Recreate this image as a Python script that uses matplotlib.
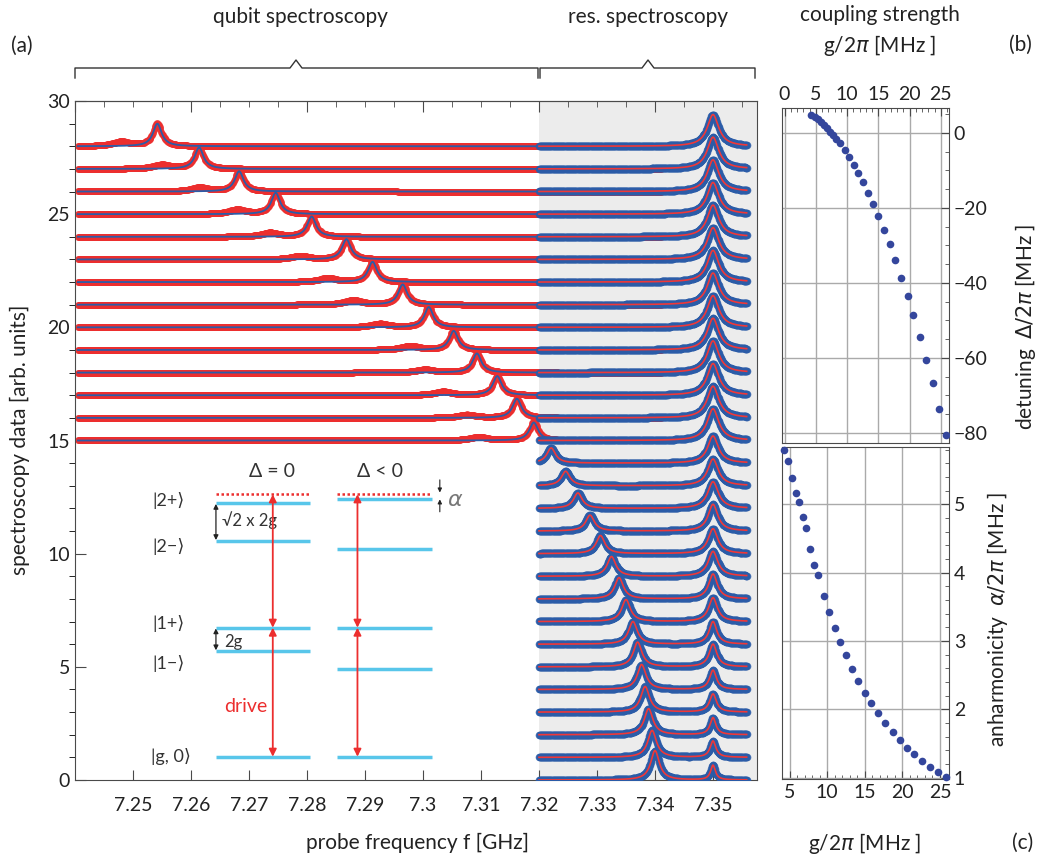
import numpy as np
import matplotlib.pyplot as plt
from matplotlib.lines import Line2D
from matplotlib.ticker import MultipleLocator, FixedLocator, FuncFormatter

plt.rcParams['font.family'] = ['Lato', 'DejaVu Sans']
plt.rcParams['mathtext.fontset'] = 'dejavusans'

W, H = 1041, 857

## qubit spectroscopy traces (red data, blue fit), one per offset
qubit_offset = [28, 27, 26, 25, 24, 23, 22, 21, 20, 19, 18, 17, 16, 15]
qubit_peak   = [7.2542, 7.2614, 7.2683, 7.2746, 7.2808, 7.2868, 7.2913, 7.2965, 7.3010,
                7.3053, 7.3093, 7.3128, 7.3162, 7.3191]
qubit_height = [1.0, 0.95, 0.9, 0.95, 0.9, 0.9, 0.9, 0.9, 0.9, 0.85, 0.85, 0.85, 0.85, 0.8]
side_peak    = [7.2480, 7.2550, 7.2615, 7.2680, 7.2736, 7.2788, 7.2836, 7.2880, 7.2926,
                7.2978, 7.3004, 7.3035, 7.3076, 7.3096]
side_height  = [0.2, 0.18, 0.18, 0.2, 0.18, 0.16, 0.18, 0.2, 0.16, 0.18, 0.14, 0.16, 0.14, 0.16]

## resonator spectroscopy traces (blue data, red fit), offsets 28 .. 0
res_offset  = list(range(28, -1, -1))
res_height  = [1.4] * 14 + [1.2, 1.18, 1.18, 1.18, 1.1, 1.1, 1.1, 1.05, 1.0, 1.0,
                            0.85, 0.8, 0.75, 0.72, 0.65]
res_width   = [0.0012] * 14 + [0.0011, 0.0011, 0.0011, 0.001, 0.001, 0.001, 0.0009, 0.0009,
                               0.0008, 0.0008, 0.0007, 0.0007, 0.0006, 0.0006, 0.0005]
dress_peak   = [np.nan] * 14 + [7.3221, 7.3246, 7.3267, 7.3288, 7.3306, 7.3325, 7.3338, 7.3350,
                                7.3362, 7.3370, 7.3377, 7.3383, 7.3389, 7.3395, 7.3400]
dress_height = [0.0] * 14 + [0.67, 0.64, 0.68, 0.7, 0.8, 0.87, 0.94, 0.97, 1.0, 1.09,
                             1.1, 1.13, 1.15, 1.19, 1.3]

## panels (b) and (c)
g_coupling = [4.3, 4.85, 5.35, 5.85, 6.3, 6.75, 7.2, 7.7, 8.25, 8.85, 9.6, 10.3, 11.05, 11.75,
              12.5, 13.3, 14.15, 15.0, 15.85, 16.8, 17.7, 18.7, 19.7, 20.6, 21.6, 22.65,
              23.7, 24.75, 25.8]
detuning   = [4.7, 4.1, 3.6, 2.85, 2.05, 1.15, 0.3, -0.6, -1.75, -2.65, -4.6, -6.4, -8.5,
              -10.7, -13.1, -16.0, -18.9, -22.2, -25.8, -29.6, -33.9, -38.6, -43.5, -48.6,
              -54.4, -60.5, -66.8, -73.6, -80.7]
anharm     = [5.79, 5.63, 5.39, 5.17, 5.04, 4.82, 4.65, 4.35, 4.11, 3.96, 3.66, 3.42, 3.19,
              2.99, 2.79, 2.59, 2.41, 2.24, 2.09, 1.94, 1.80, 1.67, 1.55, 1.44, 1.34, 1.24,
              1.16, 1.08, 1.01]
freq_ticks = [7.25, 7.26, 7.27, 7.28, 7.29, 7.30, 7.31, 7.32, 7.33, 7.34, 7.35]

red   = '#ec2e2e'
blue  = '#2b5ca8'
grey  = '#4a4a4a'
cyan  = '#58c6ea'
navy  = '#34469c'


def lor(f, f0, w):
    return 1.0 / (1.0 + ((f - f0) / w) ** 2)


def px(x, y):
    return x / W, 1 - y / H


fig = plt.figure(figsize=(W / 100, H / 100), dpi=100)

## ---- panel (a)
ax = fig.add_axes([75 / W, 1 - 780 / H, 682 / W, 679 / H])
ax.set_xlim(7.24, 7.24 + 682 / 5800)
ax.set_ylim(0, 30)
ax.axvspan(7.32, 7.36, color='#ececec', zorder=0, lw=0)

f_q = np.linspace(7.2405, 7.341, 700)
for off, f0, h, fb, hb in zip(qubit_offset, qubit_peak, qubit_height, side_peak, side_height):
    fit = off + h * lor(f_q, f0, 0.0009)
    data = fit + hb * lor(f_q, fb, 0.0018)
    ax.plot(f_q, data, 'o', ms=5, color=red, alpha=0.85, mec='none', zorder=2)
    ax.plot(f_q, fit, color=blue, lw=1.3, zorder=3)

f_r = np.linspace(7.32, 7.3558, 400)
for off, h, w, fm, hm in zip(res_offset, res_height, res_width, dress_peak, dress_height):
    fit = off + h * lor(f_r, 7.35, w)
    if hm > 0:
        fit = fit + hm * lor(f_r, fm, 0.0009)
    ax.plot(f_r, fit, 'o', ms=5.5, color=blue, alpha=0.85, mec='none', zorder=4)
    ax.plot(f_r, fit, color='#f03838', lw=1.2, zorder=5)

for s in ax.spines.values():
    s.set_color(grey)
ax.xaxis.set_major_locator(FixedLocator(freq_ticks))
ax.xaxis.set_major_formatter(FuncFormatter(lambda v, p: f'{v:.2f}'.rstrip('0')))
ax.yaxis.set_major_locator(MultipleLocator(5))
ax.yaxis.set_minor_locator(MultipleLocator(1))
ax.tick_params(direction='in', labelsize=14, colors=grey, labelcolor='#222222')
ax.tick_params(axis='x', length=7, pad=12)
ax.tick_params(axis='y', which='major', length=8)
ax.tick_params(axis='y', which='minor', length=4)
top = ax.secondary_xaxis('top')
top.xaxis.set_major_locator(MultipleLocator(0.02))
top.xaxis.set_minor_locator(MultipleLocator(0.005))
top.tick_params(direction='in', which='major', length=8, colors=grey, labeltop=False)
top.tick_params(direction='in', which='minor', length=4, colors=grey)
top.spines['top'].set_color(grey)

## energy level diagram
lv = dict(color=cyan, lw=2.5, solid_capstyle='butt', zorder=6)
left_x = [7.2643, 7.2805]
right_x = [7.2852, 7.3015]
for y in [12.23, 10.57, 6.73, 5.70, 1.03]:
    ax.plot(left_x, [y, y], **lv)
for y in [12.42, 10.19, 6.73, 4.89, 1.03]:
    ax.plot(right_x, [y, y], **lv)
for xs in (left_x, right_x):
    ax.plot(xs, [12.62, 12.62], color=red, lw=1.8, ls=(0, (1.0, 1.0)), zorder=6)

red_arrow = dict(arrowstyle='<|-|>', color=red, lw=1.3, mutation_scale=11, shrinkA=0, shrinkB=0)
for xa in (7.2741, 7.2887):
    ax.annotate('', xy=(xa, 1.03), xytext=(xa, 6.73), arrowprops=red_arrow, zorder=7)
    ax.annotate('', xy=(xa, 6.73), xytext=(xa, 12.62), arrowprops=red_arrow, zorder=7)

blk_arrow = dict(arrowstyle='<|-|>', color='#222222', lw=0.9, mutation_scale=7, shrinkA=0, shrinkB=0)
ax.annotate('', xy=(7.2643, 12.2), xytext=(7.2643, 10.6), arrowprops=blk_arrow)
ax.annotate('', xy=(7.2643, 6.7), xytext=(7.2643, 5.73), arrowprops=blk_arrow)
sm_arrow = dict(arrowstyle='-|>', color='#222222', lw=0.8, mutation_scale=6, shrinkA=0, shrinkB=0)
ax.annotate('', xy=(7.3029, 12.70), xytext=(7.3029, 13.26), arrowprops=sm_arrow)
ax.annotate('', xy=(7.3029, 12.40), xytext=(7.3029, 11.85), arrowprops=sm_arrow)

txt = dict(fontsize=13, color='#333333', va='center', ha='center')
ax.text(7.2561, 12.37, '|2+⟩', **txt)
ax.text(7.2561, 10.30, '|2−⟩', **txt)
ax.text(7.2561, 6.92, '|1+⟩', **txt)
ax.text(7.2561, 5.15, '|1−⟩', **txt)
ax.text(7.2565, 1.03, '|g, 0⟩', **txt)
ax.text(7.2653, 11.49, '√2 x 2g', fontsize=12, color='#333333', va='center', ha='left')
ax.text(7.2658, 6.11, '2g', fontsize=12, color='#333333', va='center', ha='left')
ax.text(7.2695, 3.24, 'drive', fontsize=14, color=red, va='center', ha='center')
ax.text(7.2739, 13.61, 'Δ = 0', fontsize=14, color='#333333', va='center', ha='center')
ax.text(7.2926, 13.61, 'Δ < 0', fontsize=14, color='#333333', va='center', ha='center')
ax.text(7.3055, 12.37, r'$\alpha$', fontsize=16, color='#777777', va='center', ha='center')

fig.text(*px(20, 440), 'spectroscopy data [arb. units]', rotation=90, fontsize=15,
         ha='center', va='center', color='#222222')
fig.text(*px(418, 843), 'probe frequency f [GHz]', fontsize=15, ha='center', va='center',
         color='#222222')
fig.text(*px(22, 46), '(a)', fontsize=15, ha='center', va='center', color='#222222')
fig.text(*px(300, 17), 'qubit spectroscopy', fontsize=15, ha='center', va='center', color='#222222')
fig.text(*px(648, 17), 'res. spectroscopy', fontsize=15, ha='center', va='center', color='#222222')


def bracket(x0, x1, xc, y=68):
    xs = [x0, x0, xc - 6, xc, xc + 6, x1, x1]
    ys = [y + 10, y, y, y - 8, y, y, y + 10]
    fig.add_artist(Line2D([v / W for v in xs], [1 - v / H for v in ys],
                          transform=fig.transFigure, color='#333333', lw=1))


bracket(75, 538, 296)
bracket(540, 755, 648)

## ---- panel (b)
axb = fig.add_axes([782 / W, 1 - 443 / H, 167 / W, 335 / H])
axb.plot(g_coupling, detuning, 'o', ms=5.5, color=navy, mec='none', zorder=3)
axb.set_xlim(-0.4, 26.3)
axb.set_ylim(-82.7, 6.6)
axb.xaxis.tick_top()
axb.yaxis.tick_right()
axb.xaxis.set_major_locator(MultipleLocator(5))
axb.xaxis.set_minor_locator(MultipleLocator(1))
axb.yaxis.set_major_locator(MultipleLocator(20))
axb.yaxis.set_minor_locator(MultipleLocator(5))
axb.yaxis.set_major_formatter(FuncFormatter(lambda v, p: f'{v:.0f}'.replace('-', '−')))
axb.grid(True, which='major', color='#aaaaaa', lw=1)
axb.tick_params(direction='in', labelsize=14, colors=grey, labelcolor='#222222', length=6)
axb.tick_params(which='minor', direction='in', length=3, colors=grey)
for s in axb.spines.values():
    s.set_color(grey)

## ---- panel (c)
axc = fig.add_axes([782 / W, 1 - 779 / H, 167 / W, 332 / H])
axc.plot(g_coupling, anharm, 'o', ms=5.5, color=navy, mec='none', zorder=3, clip_on=False)
axc.set_xlim(4, 26.2)
axc.set_ylim(0.98, 5.84)
axc.yaxis.tick_right()
axc.xaxis.set_major_locator(MultipleLocator(5))
axc.xaxis.set_minor_locator(MultipleLocator(1))
axc.yaxis.set_major_locator(MultipleLocator(1))
axc.yaxis.set_minor_locator(MultipleLocator(0.2))
axc.grid(True, which='major', color='#aaaaaa', lw=1)
axc.tick_params(direction='in', labelsize=14, colors=grey, labelcolor='#222222', length=6)
axc.tick_params(which='minor', direction='in', length=3, colors=grey)
for s in axc.spines.values():
    s.set_color(grey)

fig.text(*px(880, 15), 'coupling strength', fontsize=15, ha='center', va='center', color='#222222')
fig.text(*px(880, 45), r'g/2$\pi$ [MHz ]', fontsize=15, ha='center', va='center', color='#222222')
fig.text(*px(1020, 45), '(b)', fontsize=15, ha='center', va='center', color='#222222')
fig.text(*px(1025, 327), r'detuning  $\Delta/2\pi$ [MHz ]', rotation=90, fontsize=15,
         ha='center', va='center', color='#222222')
fig.text(*px(997, 619), r'anharmonicity  $\alpha/2\pi$ [MHz ]', rotation=90, fontsize=15,
         ha='center', va='center', color='#222222')
fig.text(*px(865, 843), r'g/2$\pi$ [MHz ]', fontsize=15, ha='center', va='center', color='#222222')
fig.text(*px(1023, 843), '(c)', fontsize=15, ha='center', va='center', color='#222222')

fig.savefig('out.png', dpi=100)
